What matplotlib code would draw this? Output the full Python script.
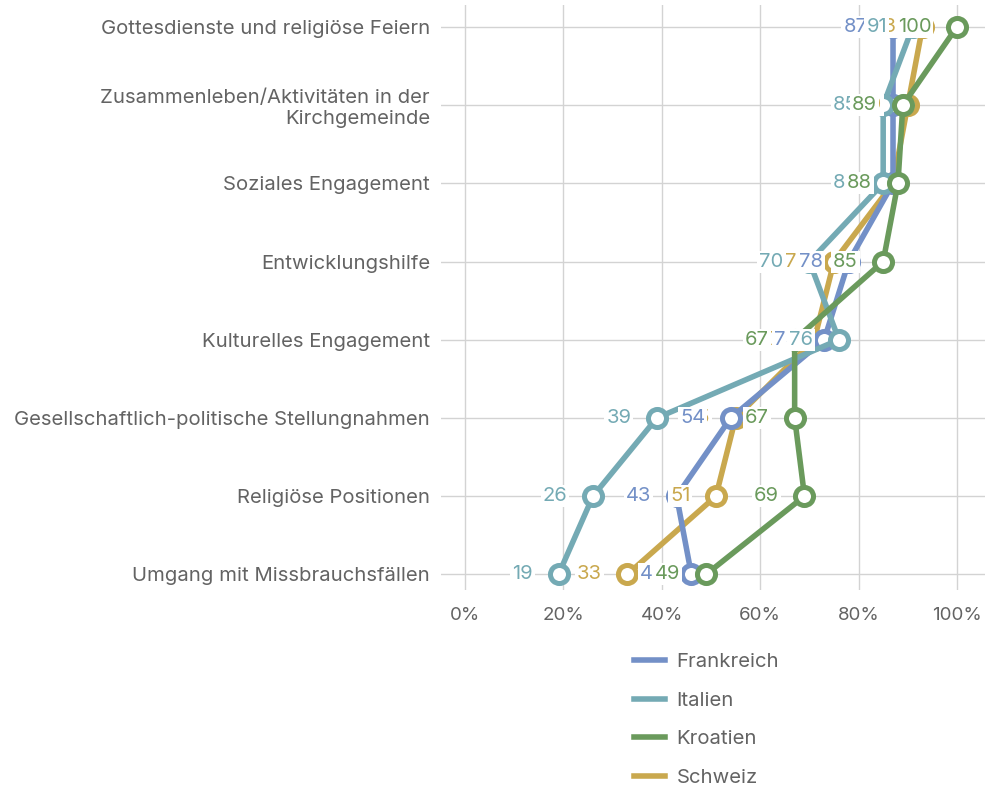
import matplotlib
matplotlib.use("Agg")
import matplotlib.pyplot as plt
import numpy as np
from matplotlib.lines import Line2D

plt.rcParams['font.family'] = ['Inter', 'DejaVu Sans']

categories = [
    "Gottesdienste und religiöse Feiern",
    "Zusammenleben/Aktivitäten in der\nKirchgemeinde",
    "Soziales Engagement",
    "Entwicklungshilfe",
    "Kulturelles Engagement",
    "Gesellschaftlich-politische Stellungnahmen",
    "Religiöse Positionen",
    "Umgang mit Missbrauchsfällen",
]
frankreich = [87, 87, 87, 78, 73, 54, 43, 46]
italien = [91, 85, 85, 70, 76, 39, 26, 19]
kroatien = [100, 89, 88, 85, 67, 67, 69, 49]
schweiz = [93, 90, 87, 75, 71, 55, 51, 33]
series_names = ["Frankreich", "Italien", "Kroatien", "Schweiz"]
colors = {"Frankreich": "#7390c7", "Italien": "#74aab4", "Kroatien": "#6a9a5c", "Schweiz": "#c9a84e"}
values = {"Frankreich": frankreich, "Italien": italien, "Kroatien": kroatien, "Schweiz": schweiz}
xticks = [0, 20, 40, 60, 80, 100]
xticklabels = ["0%", "20%", "40%", "60%", "80%", "100%"]

fig = plt.figure(figsize=(9.89, 7.85), dpi=100)
ax = fig.add_axes([441/989, 1-590/785, (985-441)/989, (590-5)/785])

y = np.arange(len(categories))
text_color = "#636363"
grid_color = "#d3d3d3"
fs_cat = 14.6
fs_tick = 13.5
fs_val = 14.5

ax.set_xlim(-4.9, 105.7)
ax.set_ylim(7.2, -0.28)
for s in ax.spines.values():
    s.set_visible(False)
ax.set_xticks(xticks)
ax.set_xticklabels(xticklabels)
ax.set_yticks(y)
ax.set_yticklabels(categories, ha='right', multialignment='right')
ax.tick_params(axis='both', length=0, colors=text_color)
ax.tick_params(axis='x', labelsize=fs_tick, pad=12)
ax.tick_params(axis='y', labelsize=fs_cat, pad=8)
ax.grid(True, color=grid_color, lw=1)
ax.set_axisbelow(True)

line_order = ["Schweiz", "Frankreich", "Italien", "Kroatien"]
for i, name in enumerate(line_order):
    ax.plot(values[name], y, color=colors[name], lw=4.0, marker='o', ms=13,
            mfc='white', mec=colors[name], mew=3.6, zorder=3 + i,
            solid_capstyle='butt', label=name)

label_order = ["Schweiz", "Frankreich", "Italien", "Kroatien"]
for i, name in enumerate(label_order):
    for v, yy in zip(values[name], y):
        ax.annotate(str(v), xy=(v, yy), xytext=(-18.5, 0), textcoords='offset points',
                    ha='right', va='center', fontsize=fs_val, color=colors[name], zorder=20 + i,
                    bbox=dict(boxstyle='square,pad=0.1', fc='white', ec='none'))

leg_handles = [Line2D([0], [0], color=colors[n], lw=4.0) for n in series_names]
leg = fig.legend(leg_handles, series_names, loc='upper left', bbox_to_anchor=(634/989, 1-653/785),
                 frameon=False, fontsize=fs_cat, handlelength=1.55, handletextpad=0.55,
                 labelspacing=1.0, borderpad=0, borderaxespad=0, labelcolor=text_color)

fig.savefig("out.png", dpi=100)
